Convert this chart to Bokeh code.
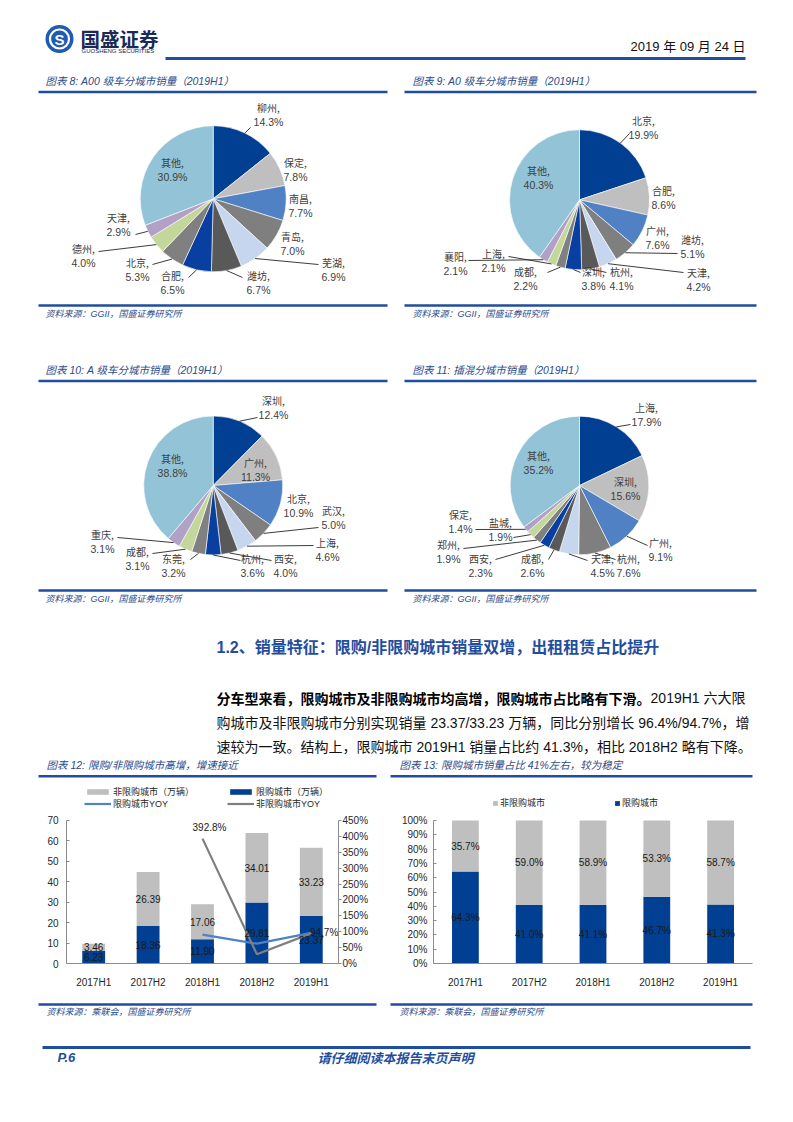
import math
from bokeh.plotting import figure
from bokeh.models import (Range1d, FactorRange, LinearAxis, FixedTicker,
                          PrintfTickFormatter, Legend, LegendItem, ColumnDataSource)
from bokeh.layouts import column, row
from bokeh.core.properties import value
from bokeh.embed import file_html
from bokeh.resources import INLINE

# ---------------- data ----------------
pie8_cities = ["柳州", "保定", "南昌", "青岛", "芜湖", "潍坊", "合肥", "北京", "德州", "天津", "其他"]
pie8_share = [14.3, 7.8, 7.7, 7.0, 6.9, 6.7, 6.5, 5.3, 4.0, 2.9, 30.9]

pie9_cities = ["北京", "合肥", "广州", "潍坊", "天津", "杭州", "深圳", "成都", "上海", "襄阳", "其他"]
pie9_share = [19.9, 8.6, 7.6, 5.1, 4.2, 4.1, 3.8, 2.2, 2.1, 2.1, 40.3]

pie10_cities = ["深圳", "广州", "北京", "武汉", "上海", "西安", "杭州", "东莞", "成都", "重庆", "其他"]
pie10_share = [12.4, 11.3, 10.9, 5.0, 4.6, 4.0, 3.6, 3.2, 3.1, 3.1, 38.8]

pie11_cities = ["上海", "深圳", "广州", "杭州", "天津", "成都", "西安", "郑州", "盐城", "保定", "其他"]
pie11_share = [17.9, 15.6, 9.1, 7.6, 4.5, 2.6, 2.3, 1.9, 1.9, 1.4, 35.2]

periods = ["2017H1", "2017H2", "2018H1", "2018H2", "2019H1"]
limited_sales = [6.23, 18.36, 11.90, 29.81, 23.37]
non_limited_sales = [3.46, 26.39, 17.06, 34.01, 33.23]
yoy_periods = ["2018H1", "2018H2", "2019H1"]
limited_yoy = [91.0, 62.4, 96.4]
non_limited_yoy = [392.8, 28.9, 94.7]
limited_share = [64.3, 41.0, 41.1, 46.7, 41.3]
non_limited_share = [35.7, 59.0, 58.9, 53.3, 58.7]

sales_ticks = [0, 10, 20, 30, 40, 50, 60, 70]
yoy_ticks = [0, 50, 100, 150, 200, 250, 300, 350, 400, 450]
share_ticks = [0, 10, 20, 30, 40, 50, 60, 70, 80, 90, 100]

# ---------------- styles ----------------
CJK = "Noto Sans CJK SC"
MIX = "Liberation Sans, Noto Sans CJK SC"
BLUE = "#003f91"
GRAY = "#bfbfbf"
HEAD_BLUE = "#1f4e9e"
LOGO_BLUE = "#1f5bb5"
TITLE_C = "#2b4a8b"
LABEL_C = "#404040"
PIE_COLORS = ["#003f91", "#bfbfbf", "#4f81c4", "#7f7f7f", "#c6d6ee", "#595959",
              "#083fa0", "#808080", "#c4d79b", "#b2a1c7", "#93c3d6"]


def txt(p, xs, ys, texts, size, color, font=CJK, align="left", baseline="middle",
        style="normal", **kw):
    return p.text(x=xs, y=ys, text=texts, text_font=value(font),
                  text_font_size=f"{size}px", text_color=color, text_align=align,
                  text_baseline=baseline, text_font_style=style, **kw)


def rule(p, x0, x1, y, w=2.5, color=HEAD_BLUE):
    p.segment(x0=[x0], y0=[y], x1=[x1], y1=[y], line_color=color, line_width=w)


def draw_pie(p, cx, cy, r, cities, shares, label_xy, leader_end):
    total = sum(shares)
    starts, ends, mids = [], [], []
    cum = 0.0
    for s in shares:
        a0 = cum / total * 2 * math.pi
        cum += s
        a1 = cum / total * 2 * math.pi
        starts.append(math.pi / 2 - a1)
        ends.append(math.pi / 2 - a0)
        mids.append((a0 + a1) / 2)
    p.wedge(x=cx, y=cy, radius=r, start_angle=starts, end_angle=ends,
            fill_color=PIE_COLORS[:len(shares)], line_color="white", line_width=0.6)
    x0, y0, x1, y1 = [], [], [], []
    for m, e in zip(mids, leader_end):
        if e is None:
            continue
        x0.append(cx + r * math.sin(m))
        y0.append(cy - r * math.cos(m))
        x1.append(e[0])
        y1.append(e[1])
    p.segment(x0=x0, y0=y0, x1=x1, y1=y1, line_color="#262626", line_width=0.9)
    names = [c + "," for c in cities]
    pcts = [f"{s:.1f}%" for s in shares]
    lx = [xy[0] for xy in label_xy]
    ly = [xy[1] for xy in label_xy]
    txt(p, lx, ly, names, 10, LABEL_C, font=CJK, align="center")
    txt(p, lx, [y + 14 for y in ly], pcts, 10.5, LABEL_C, font="Liberation Sans", align="center")


# ---------------- page band A (screen coords, y down) ----------------
pa = figure(width=793, height=780, x_range=Range1d(0, 793), y_range=Range1d(780, 0),
            x_axis_type=None, y_axis_type=None, output_backend="svg",
            toolbar_location=None, min_border=0)
pa.grid.visible = False
pa.outline_line_color = None

# header logo
pa.circle(x=[59], y=[38.5], radius=14, fill_color=LOGO_BLUE, line_color=None)
pa.circle(x=[59], y=[38.5], radius=9.5, fill_color=None, line_color="white", line_width=2.2)
txt(pa, [59], [39], ["S"], 15, "white", font="Liberation Sans", align="center", style="bold")
txt(pa, [80], [37.5], ["国盛证券"], 19.5, "#1b2a55", style="bold")
txt(pa, [81], [50], ["GUOSHENG SECURITIES"], 6, "#1b2a55", font="Liberation Sans")
txt(pa, [745], [46], ["2019 年 09 月 24 日"], 13, "#111111", font=MIX, align="right")
rule(pa, 165, 745, 58, w=3)

SRC_TEXT = "资料来源：GGII，国盛证券研究所"
# titles of pies
txt(pa, [45], [80], ["图表 8: A00 级车分城市销量（2019H1）"], 10.5, TITLE_C, font=MIX, style="italic")
txt(pa, [412], [80], ["图表 9: A0 级车分城市销量（2019H1）"], 10.5, TITLE_C, font=MIX, style="italic")
rule(pa, 38, 387, 91.5)
rule(pa, 404, 756, 91.5)
rule(pa, 38, 387, 305)
rule(pa, 404, 756, 305)
txt(pa, [45, 412], [313, 313], [SRC_TEXT, SRC_TEXT], 9, TITLE_C, font=MIX, style="italic")

txt(pa, [45], [369], ["图表 10: A 级车分城市销量（2019H1）"], 10.5, TITLE_C, font=MIX, style="italic")
txt(pa, [412], [369], ["图表 11: 插混分城市销量（2019H1）"], 10.5, TITLE_C, font=MIX, style="italic")
rule(pa, 38, 387, 380.5)
rule(pa, 404, 756, 380.5)
rule(pa, 38, 387, 590)
rule(pa, 404, 756, 590)
txt(pa, [45, 412], [598, 598], [SRC_TEXT, SRC_TEXT], 9, TITLE_C, font=MIX, style="italic")

# pies
draw_pie(pa, 212.7, 198.3, 73, pie8_cities, pie8_share,
         [(268, 107), (295, 162), (300, 198), (292, 236), (333, 262), (258, 275),
          (172, 275), (137, 262), (83, 248), (118, 217), (172, 162)],
         [(250, 127), None, None, None, (318, 264), (242, 277), (188, 277),
          (152, 264), (98, 251), (135, 234), None])
draw_pie(pa, 579, 199.3, 70, pie9_cities, pie9_share,
         [(643, 120), (663, 190), (657, 230), (692, 239), (698, 272), (621, 271),
          (593, 271), (525, 271), (493, 253), (455, 256), (538, 170)],
         [(629, 133), None, None, (677, 253), (683, 272), (606, 272), (580, 272),
          (547, 272), (508, 256), (468, 260), None])
draw_pie(pa, 212.7, 485, 69.5, pie10_cities, pie10_share,
         [(273, 400), (255, 462), (298, 498), (333, 510), (327, 542), (285, 558),
          (252, 558), (173, 558), (137, 551), (102, 534), (172, 458)],
         [(257, 417), None, None, (318, 527), (313, 545), (271, 560), (240, 560),
          (190, 559), (152, 553), (117, 537), None])
draw_pie(pa, 579, 485, 69.3, pie11_cities, pie11_share,
         [(646, 407), (625, 481), (660, 542), (628, 558), (602, 558), (532, 558),
          (480, 558), (448, 544), (500, 522), (460, 514), (538, 455)],
         [(630, 424), None, (647, 545), (615, 559), (587, 560), (548, 559),
          (495, 559), (463, 548), (513, 537), (475, 529), None])

# section heading and paragraph
txt(pa, [216], [647], ["1.2、销量特征：限购/非限购城市销量双增，出租租赁占比提升"], 16,
    HEAD_BLUE, font=MIX, style="bold")
txt(pa, [216], [697], ["分车型来看，限购城市及非限购城市均高增，限购城市占比略有下滑。"], 14,
    "#000000", font=CJK, style="bold")
txt(pa, [745], [697], ["2019H1 六大限"], 14, "#111111", font=MIX, align="right")
txt(pa, [216], [722], ["购城市及非限购城市分别实现销量 23.37/33.23 万辆，同比分别增长 96.4%/94.7%，增"],
    14, "#111111", font=MIX)
txt(pa, [216], [746], ["速较为一致。结构上，限购城市 2019H1 销量占比约 41.3%，相比 2018H2 略有下降。"],
    14, "#111111", font=MIX)

# titles of bar charts
txt(pa, [46], [764], ["图表 12: 限购/非限购城市高增，增速接近"], 10.5, TITLE_C, font=MIX, style="italic")
txt(pa, [399], [764], ["图表 13: 限购城市销量占比 41%左右，较为稳定"], 10.5, TITLE_C, font=MIX, style="italic")
rule(pa, 38, 376, 775.7)
rule(pa, 390, 752, 775.7)


def style_axis(ax):
    ax.axis_line_color = "#8c8c8c"
    ax.major_tick_line_color = "#8c8c8c"
    ax.minor_tick_line_color = None
    ax.major_label_text_font = "Liberation Sans"
    ax.major_label_text_font_size = "10px"
    ax.major_label_text_color = "#262626"


def make_legend(items, loc, gw, gh, spacing):
    return Legend(items=items, orientation="horizontal", location=loc,
                  glyph_width=gw, glyph_height=gh, label_height=12, label_standoff=2,
                  spacing=spacing, padding=1, margin=0, border_line_color=None,
                  background_fill_alpha=0, label_text_font=MIX,
                  label_text_font_size="9px", label_text_color="#262626")


# ---------------- chart 12 ----------------
# frame spans screen y 786..967; 0..70 occupies the lower 146 px
p12 = figure(width=397, height=218, x_range=FactorRange(*periods), y_range=Range1d(0, 86.6),
             output_backend="svg", toolbar_location=None,
             min_border_left=66, min_border_right=59, min_border_top=6, min_border_bottom=31)
p12.grid.visible = False
p12.outline_line_color = None
p12.extra_y_ranges = {"yoy": Range1d(0, 556.8)}

src12 = ColumnDataSource(dict(period=periods, lim=limited_sales, non=non_limited_sales))
bars12 = p12.vbar_stack(["lim", "non"], x="period", width=0.42, color=[BLUE, GRAY],
                        line_color=None, source=src12)
ln_lim = p12.line(x=yoy_periods, y=limited_yoy, y_range_name="yoy", line_color="#4f81c4", line_width=2.2)
ln_non = p12.line(x=yoy_periods, y=non_limited_yoy, y_range_name="yoy", line_color="#7f7f7f", line_width=2.2)

lim_mid = [v / 2 for v in limited_sales]
non_mid = [a + b / 2 for a, b in zip(limited_sales, non_limited_sales)]
txt(p12, periods, lim_mid, [f"{v:.2f}" for v in limited_sales], 10, "#1a1a1a", font="Liberation Sans", align="center")
txt(p12, periods, non_mid, [f"{v:.2f}" for v in non_limited_sales], 10, "#1a1a1a", font="Liberation Sans", align="center")
txt(p12, yoy_periods, non_limited_yoy, [f"{v:.1f}%" for v in non_limited_yoy], 10, "#1a1a1a",
    font="Liberation Sans", align=["center", "center", "right"], y_range_name="yoy",
    x_offset=[7, 8, 27], y_offset=[-11, 13, -1])

p12.yaxis.ticker = FixedTicker(ticks=sales_ticks)
p12.yaxis.bounds = (0, 70)
p12.yaxis.major_tick_in = 3
p12.yaxis.major_tick_out = 0
p12.yaxis.major_label_standoff = 8
ax_r = LinearAxis(y_range_name="yoy", ticker=FixedTicker(ticks=yoy_ticks),
                  formatter=PrintfTickFormatter(format="%d%%"), bounds=(0, 450))
ax_r.major_tick_in = 0
ax_r.major_tick_out = 3
ax_r.major_label_standoff = 1
p12.add_layout(ax_r, "right")
for ax in p12.axis:
    style_axis(ax)
p12.xaxis.major_tick_line_color = None
p12.xaxis.major_label_standoff = 7

leg12a = make_legend([LegendItem(label="非限购城市（万辆）", renderers=[bars12[1]]),
                      LegendItem(label="限购城市（万辆）", renderers=[bars12[0]])],
                     (18, 165), 27, 7, 33)
leg12b = make_legend([LegendItem(label="限购城市YOY", renderers=[ln_lim]),
                      LegendItem(label="非限购城市YOY", renderers=[ln_non])],
                     (18, 153), 27, 7, 59)
p12.add_layout(leg12a)
p12.add_layout(leg12b)

# ---------------- chart 13 ----------------
p13 = figure(width=396, height=218, x_range=FactorRange(*periods), y_range=Range1d(0, 123.8),
             output_backend="svg", toolbar_location=None,
             min_border_left=36, min_border_right=41, min_border_top=6, min_border_bottom=35)
p13.grid.visible = False
p13.outline_line_color = None
src13 = ColumnDataSource(dict(period=periods, lim=limited_share, non=non_limited_share))
bars13 = p13.vbar_stack(["lim", "non"], x="period", width=0.42, color=[BLUE, GRAY],
                        line_color=None, source=src13)
txt(p13, periods, [v / 2 for v in limited_share], [f"{v:.1f}%" for v in limited_share], 10,
    "#1a1a1a", font="Liberation Sans", align="center")
txt(p13, periods, [a + b / 2 for a, b in zip(limited_share, non_limited_share)],
    [f"{v:.1f}%" for v in non_limited_share], 10, "#1a1a1a", font="Liberation Sans", align="center")
p13.yaxis.ticker = FixedTicker(ticks=share_ticks)
p13.yaxis.formatter = PrintfTickFormatter(format="%d%%")
p13.yaxis.bounds = (0, 100)
p13.yaxis.major_tick_in = 3
p13.yaxis.major_tick_out = 0
p13.yaxis.major_label_standoff = 6
for ax in p13.axis:
    style_axis(ax)
p13.xaxis.major_tick_line_color = None
p13.xaxis.major_label_standoff = 7
leg13 = make_legend([LegendItem(label="非限购城市", renderers=[bars13[1]]),
                     LegendItem(label="限购城市", renderers=[bars13[0]])],
                    (59, 154), 6, 6, 69)
p13.add_layout(leg13)

# ---------------- page band C ----------------
pc = figure(width=793, height=76, x_range=Range1d(0, 793), y_range=Range1d(1074, 998),
            x_axis_type=None, y_axis_type=None, output_backend="svg",
            toolbar_location=None, min_border=0)
pc.grid.visible = False
pc.outline_line_color = None
SRC2 = "资料来源：乘联会，国盛证券研究所"
rule(pc, 38, 376, 1004)
rule(pc, 390, 752, 1004)
txt(pc, [46, 399], [1011, 1011], [SRC2, SRC2], 9, TITLE_C, font=MIX, style="italic")
rule(pc, 42, 750, 1047, w=3)
txt(pc, [57], [1057], ["P.6"], 13, HEAD_BLUE, font="Liberation Sans", style="bold italic")
txt(pc, [395], [1057], ["请仔细阅读本报告末页声明"], 13, HEAD_BLUE, font=CJK, align="center",
    style="bold italic")

layout = column(pa, row(p12, p13, spacing=0), pc, spacing=0)
open("out.html", "w").write(file_html(layout, INLINE))
